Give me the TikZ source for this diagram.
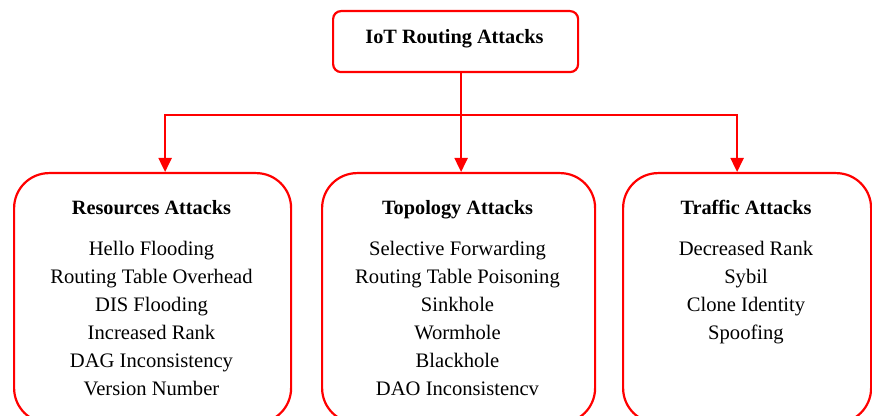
\documentclass[tikz,border=0pt]{standalone}
\usepackage{fontspec}
\setmainfont{Liberation Serif}
\usetikzlibrary{arrows.meta,calc}
\begin{document}
\begin{tikzpicture}[x=1pt,y=1pt,
  redline/.style={draw=red, line width=2.2pt},
  topbox/.style={redline, rounded corners=8pt, minimum width=245pt, minimum height=61pt, inner sep=0pt, anchor=north west},
  catbox/.style={redline, rounded corners=35pt, minimum height=250pt, inner sep=0pt, anchor=north west},
  headtxt/.style={font=\fontsize{20.3}{24}\selectfont\bfseries, anchor=base, inner sep=0pt},
  itemtxt/.style={font=\fontsize{20.6}{24}\selectfont, anchor=base, inner sep=0pt},
  arr/.style={redline, -{Triangle[width=13pt,length=14pt]}}
]
\useasboundingbox (0,0) rectangle (872,415);
\fill[white] (0,0) rectangle (872,415);
\begin{scope}
\clip (0,0) rectangle (872,415);
\node[topbox] (top) at (332,405) {};
\node[headtxt] (title) at (454.5,371.5) {IoT Routing Attacks};
\node[catbox, minimum width=277pt] (left) at (13,243) {};
\node[catbox, minimum width=273pt] (mid) at (321,243) {};
\node[catbox, minimum width=248pt] (right) at (622,243) {};
\coordinate (j) at (460,300);
\draw[arr] ([xshift=5.5pt]top.south) -- ([xshift=2.5pt]mid.north);
\draw[arr] (j) -| ([xshift=12.5pt]left.north);
\draw[arr] (j) -| ([xshift=-10pt]right.north);

\node[headtxt] (lh) at (151.5,200) {Resources Attacks};
\node[headtxt] (mh) at (457.5,200) {Topology Attacks};
\node[headtxt] (rh) at (746,200) {Traffic Attacks};

\foreach \t [count=\i from 0] in {Hello Flooding, Routing Table Overhead, DIS Flooding, Increased Rank, DAG Inconsistency, Version Number}
  \node[itemtxt] (l\i) at (151.5,159.5-28*\i) {\t};
\foreach \t [count=\i from 0] in {Selective Forwarding, Routing Table Poisoning, Sinkhole, Wormhole, Blackhole, DAO Inconsistencv}
  \node[itemtxt] (m\i) at (457.5,159.5-28*\i) {\t};
\foreach \t [count=\i from 0] in {Decreased Rank, Sybil, Clone Identity, Spoofing}
  \node[itemtxt] (r\i) at (746,159.5-28*\i) {\t};
\end{scope}
\end{tikzpicture}
\end{document}
